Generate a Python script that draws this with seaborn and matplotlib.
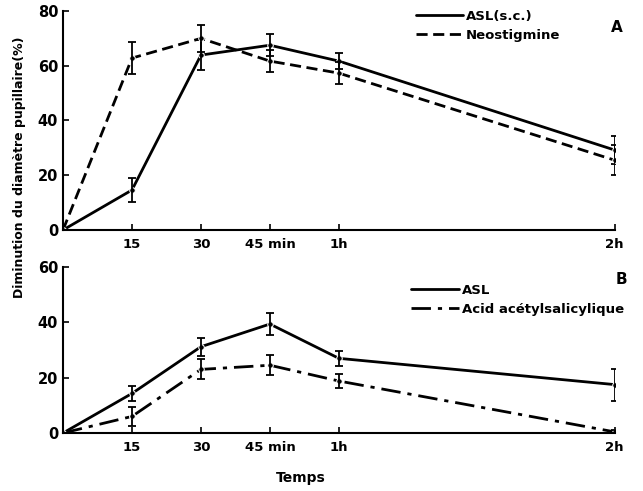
import pandas as pd
import matplotlib
matplotlib.use("Agg")
import matplotlib.pyplot as plt
import seaborn as sns

# -----------------------------
# Data
# -----------------------------
minutes = [0, 15, 30, 45, 60, 120]
tick_pos = [15, 30, 45, 60, 120]
tick_labels = ["15", "30", "45 min", "1h", "2h"]

# panel A
asl_sc = [0, 14.6, 63.9, 67.5, 61.7, 29.2]
asl_sc_err = [0, 4.4, 5.5, 4.0, 3.0, 5.0]
neostigmine = [0, 62.8, 70.0, 61.7, 57.3, 25.5]
neostigmine_err = [0, 5.8, 5.0, 4.0, 4.0, 5.5]

# panel B
asl = [0, 14.3, 31.2, 39.4, 27.0, 17.5]
asl_err = [0, 2.6, 3.2, 4.1, 2.8, 5.8]
acid = [0, 6.0, 23.0, 24.5, 18.8, 0.4]
acid_err = [0, 3.5, 3.6, 3.6, 2.6, 0.8]

sns.set_style("ticks")
plt.rcParams['font.family'] = ['Liberation Sans Narrow', 'DejaVu Sans']
plt.rcParams['font.weight'] = 'bold'
for k in ['text.color', 'axes.labelcolor', 'xtick.color', 'ytick.color', 'axes.edgecolor']:
    plt.rcParams[k] = 'black'

fig = plt.figure(figsize=(6.43, 4.91), dpi=100)
ax_a = fig.add_axes([0.098, 0.5316, 0.858, 0.446])
ax_b = fig.add_axes([0.098, 0.1181, 0.858, 0.338])

def draw(ax, y, err, label, ls):
    df = pd.DataFrame({'t': minutes, 'v': y})
    sns.lineplot(data=df, x='t', y='v', ax=ax, color='black', lw=2,
                 linestyle=ls, marker='o', markersize=4, label=label)
    ax.errorbar(minutes[1:], y[1:], yerr=err[1:], fmt='none',
                ecolor='black', elinewidth=1.3, capsize=3, capthick=1.3)

draw(ax_a, asl_sc, asl_sc_err, 'ASL(s.c.)', '-')
draw(ax_a, neostigmine, neostigmine_err, 'Neostigmine', (0, (4, 2)))
draw(ax_b, asl, asl_err, 'ASL', '-')
draw(ax_b, acid, acid_err, 'Acid acétylsalicylique', (0, (7, 2.5, 1.5, 2.5)))

for ax, top, ticks in [(ax_a, 80, [0, 20, 40, 60, 80]), (ax_b, 60, [0, 20, 40, 60])]:
    ax.set_xlim(0, 120)
    ax.set_ylim(0, top)
    ax.set_xticks(tick_pos)
    ax.set_xticklabels(tick_labels, fontsize=9.5)
    ax.set_yticks(ticks)
    ax.set_yticklabels([str(t) for t in ticks], fontsize=10.5)
    ax.tick_params(direction='in', length=4, width=1.2)
    ax.tick_params(axis='x', pad=6)
    ax.set_xlabel('')
    ax.set_ylabel('')
    for s in ['top', 'right']:
        ax.spines[s].set_visible(False)
    for s in ['left', 'bottom']:
        ax.spines[s].set_linewidth(1.5)
    leg = ax.legend(loc='upper left', bbox_to_anchor=(0.63, 1.03), frameon=False,
                    fontsize=9.5, handlelength=3.6, handletextpad=0.2,
                    labelspacing=0.45, borderaxespad=0)
    for h in leg.legend_handles:
        h.set_marker('')

ax_b.get_legend().set_bbox_to_anchor((0.622, 0.93))

fig.text(0.96, 0.945, 'A', fontsize=11, ha='center', va='center')
fig.text(0.967, 0.43, 'B', fontsize=11, ha='center', va='center')
fig.text(0.031, 0.66, 'Diminution du diamètre pupillaire(%)', rotation=90,
         fontsize=9, ha='center', va='center')
fig.text(0.467, 0.027, 'Temps', fontsize=10, ha='center', va='center')

plt.savefig('out.png', dpi=100)
